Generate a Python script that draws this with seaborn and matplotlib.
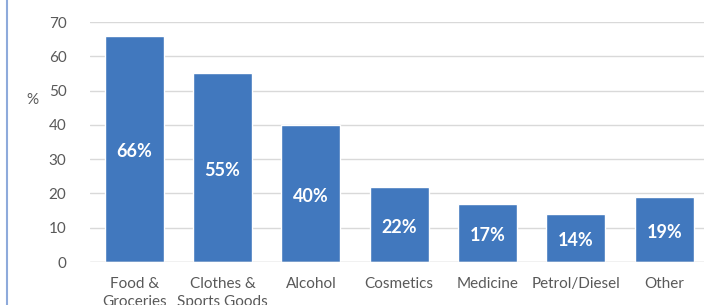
import matplotlib
matplotlib.use("Agg")
import matplotlib.pyplot as plt
import seaborn as sns
import pandas as pd
from matplotlib.lines import Line2D

categories = ["Food &\nGroceries", "Clothes &\nSports Goods", "Alcohol", "Cosmetics",
              "Medicine", "Petrol/Diesel", "Other"]
values = [66, 55, 40, 22, 17, 14, 19]
y_ticks = [0, 10, 20, 30, 40, 50, 60, 70]

sns.set_style("white")
plt.rcParams['font.family'] = ['Lato', 'DejaVu Sans']

df = pd.DataFrame({"Category": categories, "Value": values})

fig = plt.figure(figsize=(7.04, 3.05), dpi=100)
ax = fig.add_axes([90 / 704, 1 - 262 / 305, 614 / 704, 240 / 305])

sns.barplot(data=df, x="Category", y="Value", color="#4178be", width=0.67,
            saturation=1, ax=ax, zorder=3)

ax.set_xlim(-0.5, 6.45)
ax.set_ylim(0, 70)
ax.set_yticks(y_ticks)
ax.yaxis.grid(True, color="#d9d9d9", linewidth=1, zorder=0)
ax.set_axisbelow(True)
for s in ax.spines.values():
    s.set_visible(False)
ax.axhline(0, color="#d9d9d9", linewidth=1, zorder=4)
ax.tick_params(axis="both", length=0, labelsize=11, colors="#595959")
ax.tick_params(axis="y", pad=17)
ax.tick_params(axis="x", pad=11)
for lbl in ax.get_xticklabels():
    lbl.set_linespacing(1.3)
ax.set_xlabel("")
ax.set_ylabel("%", rotation=0, color="#595959", fontsize=11)
ax.yaxis.set_label_coords(-0.093, 0.646)

for i, v in enumerate(values):
    ax.text(i, v / 2 - 0.8, f"{v}%", ha="center", va="center", color="white",
            fontsize=13, fontweight="bold", zorder=5)

fig.add_artist(Line2D([7 / 704, 7 / 704], [0, 1], color="#8eaadb", linewidth=1.5))

fig.savefig("out.png", dpi=100)
